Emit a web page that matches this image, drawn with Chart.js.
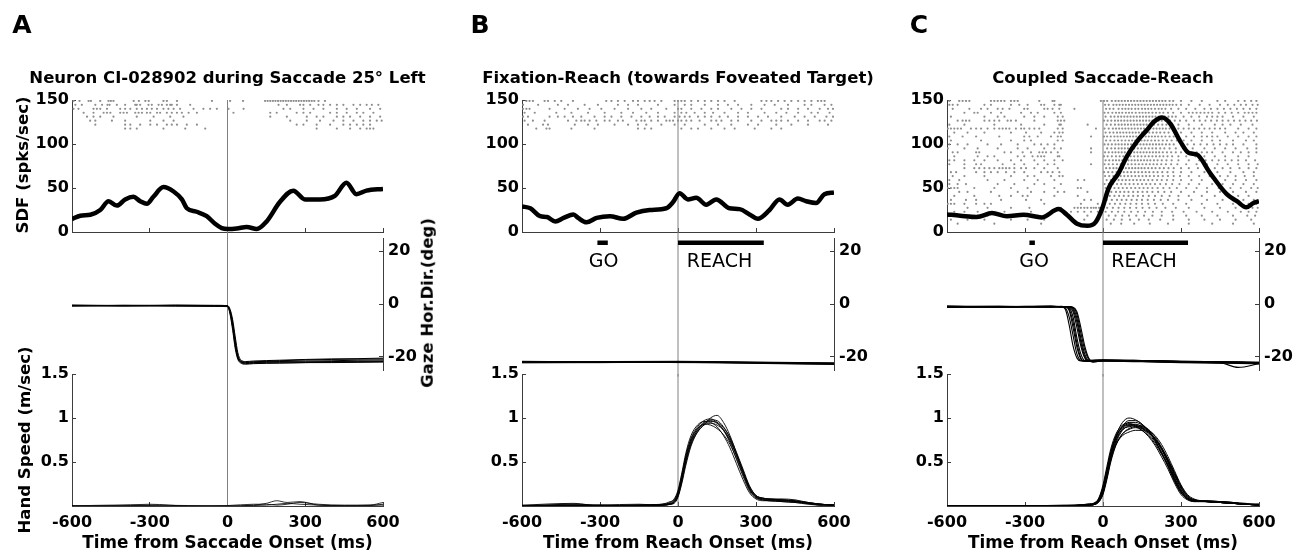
<!DOCTYPE html>
<html>
<head>
<meta charset="utf-8">
<script src="https://cdn.jsdelivr.net/npm/chart.js@4.4.1/dist/chart.umd.min.js"></script>
<style>
  body { margin: 0; background: #fff; }
  #fig { position: relative; width: 1298px; height: 557px; overflow: hidden; font-family: "DejaVu Sans", sans-serif; }
  #fig canvas { position: absolute; left: 0; top: 0; }
  .lbl { position: absolute; white-space: nowrap; line-height: 1; color: #000; }
</style>
</head>
<body>
<div id="fig"></div>
<script>
// ---- ticks ----
const xTicks = [-600, -300, 0, 300, 600];
const sdfTicks = [0, 50, 100, 150];
const gazeTicks = [-20, 0, 20];
const handTicks = [0, 0.5, 1, 1.5];

// ---- spike density (spks/sec) ----
const sdfTimeA = [-600, -568, -529, -491, -459, -427, -395, -363, -337, -311, -286, -247, -208, -176, -157, -119, -80, -48, -22, 0, 36, 74, 113, 151, 202, 254, 299, 356, 414, 459, 497, 536, 600];
const sdfA = [14.7, 18.5, 19.6, 25, 35, 30, 37, 40, 35, 32, 40, 51, 46, 37, 27, 23, 18, 9.4, 4.5, 3.4, 4, 5.7, 3.4, 12, 34, 47, 37, 37, 41, 56, 43, 47, 49];
const sdfTimeB = [-600, -568, -530, -504, -472, -440, -402, -384, -352, -313, -262, -211, -160, -109, -45, -19, 6, 38, 70, 109, 147, 198, 237, 275, 307, 352, 390, 422, 461, 493, 531, 563, 600];
const sdfB = [29, 27, 18, 17, 12, 16, 20, 16, 11, 16, 18, 15, 22, 25, 27, 34, 44, 37, 39, 31, 37, 27, 26, 20, 15, 25, 37, 31, 38, 35, 33, 43, 45];
const sdfTimeC = [-600, -549, -485, -427, -370, -306, -235, -171, -139, -100, -61, -29, -4, 22, 60, 92, 131, 169, 195, 227, 259, 297, 329, 361, 412, 476, 515, 551, 579, 600];
const sdfC = [20, 18.5, 17, 21.5, 17.8, 19.6, 16.6, 26, 19.6, 9.4, 7, 11, 26, 50, 67, 86, 103, 116, 125, 130, 123, 103, 90, 88, 67, 43, 35, 28, 33, 35];

// ---- rasters: one list of spike times (ms) per trial row ----
const rasterRowsA = [149, 144.5, 140, 135.5, 131, 126.5, 122, 117.5];
const rasterA = [
  [-594, -571, -536, -527, -491, -459, -450, -440, -362, -342, -317, -304, -247, -234, -195, -60, 10, 60, 145, 155, 165, 175, 185, 195, 205, 215, 225, 235, 245, 255, 265, 275, 285, 295, 305, 315, 325, 335, 351, 376],
  [-587, -562, -510, -484, -463, -455, -427, -395, -356, -350, -337, -305, -292, -266, -253, -234, -221, -215, -195, -144, 197, 229, 280, 293, 319, 351, 370, 396, 422, 447, 486, 512, 537, 557, 582],
  [-594, -575, -517, -504, -491, -465, -414, -395, -375, -350, -330, -311, -292, -272, -247, -228, -208, -183, -131, -93, -67, -41, 4, 62, 216, 242, 293, 332, 370, 422, 460, 499, 550, 589],
  [-555, -517, -478, -465, -452, -414, -401, -388, -356, -343, -330, -311, -298, -272, -260, -234, -215, -195, -176, -150, -118, 23, 165, 190, 267, 293, 319, 396, 422, 460, 499, 524, 563],
  [-542, -517, -491, -440, -350, -285, -221, -170, 165, 229, 306, 344, 370, 422, 447, 473, 512, 550, 589],
  [-530, -510, -446, -395, -298, -247, -208, 242, 306, 357, 409, 447, 486, 524, 550, 576, 595],
  [-510, -395, -375, -337, -298, -272, -234, -215, -195, -157, -118, 267, 293, 344, 396, 447, 473, 499, 524, 550],
  [-395, -375, -350, -247, -163, -86, 344, 422, 473, 512, 537, 550, 563],
];
const rasterRowsB = [149, 144.5, 140, 135.5, 131, 126.5, 122, 117.5];
const rasterB = [
  [-583, -571, -558, -513, -500, -474, -449, -404, -276, -256, -231, -205, -173, -154, -128, -109, -90, -64, -13, 0, 13, 26, 51, 77, 103, 128, 154, 179, 218, 321, 340, 359, 385, 410, 436, 462, 487, 513, 538, 551, 564],
  [-596, -538, -462, -423, -359, -308, -231, -192, -154, -77, -13, 26, 51, 103, 154, 192, 231, 282, 333, 372, 423, 487, 513, 564, 590],
  [-596, -583, -571, -494, -436, -385, -340, -295, -244, -192, -141, -103, -45, 0, 13, 51, 90, 128, 154, 205, 244, 282, 321, 397, 423, 462, 500, 545, 577, 596],
  [-590, -551, -468, -410, -346, -282, -218, -173, -122, -77, -13, 13, 32, 64, 103, 135, 179, 231, 269, 333, 378, 417, 462, 513, 538, 583],
  [-596, -577, -494, -462, -436, -404, -372, -321, -282, -256, -218, -179, -141, -109, -77, -51, -13, 6, 26, 45, 77, 103, 128, 160, 192, 231, 269, 308, 346, 397, 449, 487, 526, 571, 596],
  [-590, -558, -513, -423, -391, -372, -359, -340, -314, -282, -263, -231, -212, -160, -141, -128, -103, -77, -45, -32, -19, 0, 13, 32, 51, 83, 128, 147, 167, 205, 231, 282, 321, 359, 378, 397, 423, 462, 500, 545, 564, 590],
  [-577, -519, -500, -397, -346, -308, -244, -192, -154, -122, -64, -13, 26, 103, 154, 205, 269, 308, 378, 436, 500, 577],
  [-545, -506, -494, -410, -321, -154, -128, -103, 13, 51, 77, 128, 179, 218, 295, 359, 397],
];
const rasterRowsC = [149, 144.5, 140, 135.5, 131, 126.5, 122, 117.5, 113, 108.5, 104, 99.5, 95, 90.5, 86, 81.5, 77, 72.5, 68, 63.5, 59, 54.5, 50, 45.5, 41, 36.5, 32, 27.5, 23, 18.5, 14, 9.5];
const rasterC = [
  [-591, -553, -540, -527, -514, -431, -418, -405, -392, -379, -354, -341, -328, -245, -194, -187, -8, 4, 16, 34, 48, 60, 72, 84, 96, 108, 120, 132, 144, 156, 168, 180, 192, 204, 216, 228, 240, 256, 270, 300, 340, 380, 440, 470, 520, 545, 570, 590],
  [-591, -578, -559, -456, -431, -354, -322, -290, -238, -226, -187, -168, -162, 8, 22, 40, 52, 64, 76, 88, 100, 112, 124, 136, 148, 160, 172, 184, 196, 208, 220, 232, 244, 256, 268, 282, 300, 330, 372, 410, 450, 480, 505, 530, 550, 575, 595],
  [-578, -514, -469, -444, -405, -386, -360, -303, -290, -226, -213, -194, -168, -110, 12, 26, 40, 60, 74, 86, 98, 110, 124, 136, 150, 162, 174, 186, 200, 214, 226, 240, 262, 290, 320, 355, 390, 415, 440, 465, 490, 515, 540, 565, 590],
  [-533, -495, -482, -431, -392, -315, -277, -251, -187, -162, 6, 20, 36, 50, 62, 74, 88, 100, 112, 126, 140, 152, 164, 176, 190, 204, 218, 232, 250, 270, 300, 330, 345, 360, 375, 390, 405, 420, 445, 470, 495, 520, 545, 560, 575, 590],
  [-585, -456, -405, -379, -303, -264, -226, -174, -155, 10, 30, 44, 58, 70, 82, 94, 106, 118, 130, 142, 154, 166, 178, 190, 202, 214, 226, 238, 252, 266, 280, 310, 340, 370, 400, 420, 440, 460, 500, 540, 580],
  [-559, -540, -527, -514, -456, -437, -418, -399, -367, -354, -335, -264, -174, -162, -149, 4, 18, 32, 46, 58, 70, 82, 94, 106, 118, 130, 142, 154, 166, 178, 190, 202, 214, 226, 240, 258, 276, 296, 320, 350, 372, 394, 416, 438, 460, 482, 504, 526, 548, 570, 592],
  [-591, -533, -418, -315, -226, -168, -162, -59, 14, 30, 46, 60, 72, 84, 96, 108, 120, 132, 144, 156, 168, 180, 196, 212, 228, 244, 262, 290, 330, 380, 430, 460, 490, 530, 575],
  [-597, -585, -572, -559, -546, -508, -488, -469, -444, -418, -399, -386, -373, -360, -335, -315, -303, -283, -264, -245, -174, -155, -27, 6, 22, 38, 50, 62, 74, 86, 98, 110, 122, 134, 146, 158, 170, 182, 194, 206, 218, 230, 242, 256, 270, 290, 310, 330, 350, 370, 390, 410, 430, 450, 470, 520, 560, 590],
  [-572, -521, -456, -354, -296, -238, -187, -168, -155, 10, 26, 40, 54, 66, 78, 90, 102, 114, 126, 138, 150, 164, 178, 192, 206, 220, 236, 252, 275, 300, 340, 380, 420, 470, 510, 540, 580],
  [-591, -540, -488, -399, -303, -283, -251, -200, -174, -162, -46, 4, 16, 30, 44, 56, 68, 80, 92, 104, 116, 128, 140, 152, 164, 176, 188, 200, 212, 226, 240, 256, 272, 290, 320, 350, 380, 400, 420, 440, 480, 520, 560, 590],
  [-585, -469, -354, -303, -277, -174, -155, 12, 28, 44, 58, 72, 86, 100, 112, 124, 136, 148, 160, 172, 186, 200, 214, 230, 246, 264, 284, 310, 340, 380, 420, 450, 500, 550, 580],
  [-591, -559, -521, -444, -392, -328, -264, -238, -213, -187, 6, 20, 34, 48, 60, 72, 84, 96, 108, 120, 132, 144, 156, 168, 180, 192, 204, 216, 228, 242, 256, 272, 300, 325, 350, 375, 400, 425, 450, 475, 500, 540, 590],
  [-597, -533, -482, -405, -328, -290, -226, -187, -162, -46, 16, 32, 46, 60, 72, 84, 96, 108, 120, 134, 148, 162, 176, 190, 204, 220, 236, 256, 280, 310, 345, 390, 430, 470, 510, 555, 590],
  [-578, -559, -488, -476, -379, -354, -309, -277, -245, -232, -219, -200, -174, -46, 8, 22, 36, 48, 60, 72, 84, 96, 108, 120, 132, 144, 156, 168, 180, 192, 204, 216, 230, 246, 262, 280, 300, 320, 340, 360, 380, 400, 420, 460, 500, 530, 560, 590],
  [-572, -482, -444, -418, -328, -303, -271, -251, -238, -226, -174, -168, 4, 18, 34, 50, 64, 78, 92, 106, 120, 134, 148, 162, 176, 190, 204, 218, 232, 248, 266, 290, 320, 355, 390, 430, 470, 520, 560],
  [-591, -572, -533, -495, -456, -405, -354, -315, -264, -226, -187, -155, 10, 24, 38, 50, 62, 74, 86, 98, 110, 122, 134, 146, 158, 170, 182, 196, 210, 226, 244, 264, 290, 330, 370, 395, 420, 445, 470, 495, 520, 550, 585],
  [-591, -533, -488, -469, -386, -341, -303, -251, -213, -187, -46, 6, 22, 38, 54, 68, 82, 96, 110, 124, 138, 152, 166, 180, 194, 208, 224, 242, 262, 286, 320, 360, 400, 440, 480, 520, 560, 595],
  [-533, -495, -476, -456, -437, -418, -399, -386, -373, -360, -341, -315, -296, -264, -226, -174, 12, 26, 40, 52, 64, 76, 88, 100, 112, 124, 136, 148, 160, 174, 188, 202, 218, 234, 252, 272, 300, 330, 365, 400, 430, 460, 490, 525, 560, 590],
  [-585, -565, -488, -456, -431, -405, -373, -341, -303, -238, -213, -194, -168, 4, 20, 36, 52, 66, 80, 94, 108, 122, 136, 150, 164, 178, 194, 210, 228, 248, 270, 300, 340, 390, 440, 490, 540, 580],
  [-578, -533, -456, -354, -290, -264, -200, -168, -155, 8, 24, 40, 54, 68, 82, 96, 110, 124, 138, 152, 166, 180, 196, 212, 230, 250, 272, 296, 330, 370, 410, 450, 480, 510, 545, 580],
  [-591, -553, -444, -379, -303, -251, -187, -97, -72, 14, 30, 46, 60, 74, 88, 102, 116, 130, 144, 158, 174, 190, 208, 226, 246, 270, 300, 340, 380, 430, 470, 510, 550, 590],
  [-591, -559, -527, -405, -341, -264, -226, -162, 6, 22, 38, 54, 70, 86, 102, 118, 134, 150, 166, 182, 200, 220, 242, 266, 294, 330, 370, 420, 460, 500, 540, 580],
  [-597, -585, -572, -559, -495, -418, -354, -290, -187, -97, -85, 10, 28, 44, 60, 76, 92, 108, 124, 140, 156, 172, 190, 210, 232, 256, 284, 320, 360, 400, 445, 490, 530, 570, 595],
  [-553, -521, -431, -328, -277, -226, -174, -149, -60, 16, 32, 50, 66, 82, 98, 116, 134, 152, 170, 190, 212, 236, 262, 300, 350, 400, 450, 500, 550, 590],
  [-572, -495, -399, -354, -309, -290, -187, -97, 8, 26, 44, 62, 80, 98, 116, 134, 154, 176, 200, 226, 256, 290, 330, 380, 430, 480, 520, 560],
  [-585, -527, -488, -392, -296, -238, -72, -46, 14, 34, 54, 72, 90, 110, 130, 150, 172, 196, 222, 250, 290, 340, 400, 460, 500, 540, 580],
  [-597, -585, -572, -533, -488, -456, -431, -226, -85, -20, 6, 26, 46, 66, 86, 106, 128, 150, 174, 200, 230, 270, 320, 380, 440, 500, 560, 590],
  [-521, -444, -354, -283, -162, -110, -97, -85, -72, -60, -46, -36, -27, -15, -8, 16, 38, 60, 82, 104, 128, 152, 178, 206, 240, 280, 330, 390, 450, 510, 550, 575, 595],
  [-572, -533, -482, -379, -277, -200, -149, -123, -97, -72, -46, -20, 10, 34, 58, 82, 108, 134, 162, 192, 226, 266, 310, 360, 420, 480, 530, 560, 590],
  [-591, -553, -540, -527, -514, -495, -482, -469, -444, -354, -341, -335, -277, -251, -226, -136, -60, 22, 48, 74, 100, 128, 158, 190, 226, 270, 320, 380, 440, 500, 555, 585],
  [-585, -521, -456, -354, -290, -226, -72, 14, 42, 72, 104, 138, 176, 220, 270, 330, 390, 450, 510, 570],
  [-559, -418, -238, 30, 70, 120, 180, 250, 330, 420, 500, 580],
];

// ---- gaze horizontal direction (deg), single trials ----
const gazeTimeA = [-600, -400, -200, -50, 0, 10, 20, 30, 40, 50, 70, 100, 200, 300, 400, 500, 600];
const gazeA = [
  [-0.6, -0.7, -0.5, -0.6, -0.8, -2.5, -7, -14, -19.5, -21.5, -22.2, -22, -21.8, -21.6, -21.5, -21.3, -21.2],
  [-0.8, -0.5, -0.7, -0.9, -1.0, -3.5, -9, -16, -20.5, -22, -22.4, -22.2, -22, -21.9, -21.8, -21.7, -21.6],
  [-0.4, -0.6, -0.4, -0.5, -0.6, -2, -6, -12.5, -18.5, -21, -21.8, -21.6, -21.3, -21, -20.8, -20.7, -20.5],
  [-0.7, -0.8, -0.6, -0.7, -0.9, -3, -8, -15, -20, -21.7, -22.6, -22.4, -22.3, -22.2, -22.2, -22.1, -22],
  [-0.5, -0.6, -0.8, -0.6, -0.7, -2.8, -7.5, -15, -20.2, -21.8, -22, -21.9, -21.5, -21.2, -21, -20.9, -20.8],
  [-0.6, -0.5, -0.6, -0.8, -0.9, -4, -10, -17, -21, -22.3, -22.8, -22.6, -22.4, -22.2, -22, -21.9, -21.8],
];
const gazeTimeB = [-600, -300, 0, 300, 600];
const gazeB = [
  [-21.9, -22.0, -21.9, -22.2, -22.5],
  [-22.1, -22.2, -22.0, -22.4, -22.8],
  [-21.8, -21.8, -21.7, -22.0, -22.3],
  [-22.3, -22.2, -22.1, -22.5, -22.9],
  [-22.0, -21.9, -22.2, -22.3, -22.6],
  [-21.7, -21.9, -21.8, -22.1, -22.4],
];
const gazeTimeC = [-600, -400, -200, -160, -145, -130, -115, -100, -85, -70, -55, -40, 0, 150, 300, 450, 520, 600];
const gazeC = [
  [-1.0, -1.1, -0.9, -1.1, -2, -8, -16, -20.5, -21.6, -21.5, -21.4, -21.3, -21.2, -21.5, -21.8, -22, -22, -22.2],
  [-0.8, -0.9, -1.0, -1.0, -1.5, -5, -12, -19, -21.4, -21.6, -21.4, -21.3, -21.2, -21.4, -21.7, -21.9, -22, -22.1],
  [-1.2, -1.0, -1.1, -1.0, -1.1, -2.5, -9, -16.5, -20.8, -21.7, -21.5, -21.4, -21.3, -21.5, -21.8, -22, -22.1, -22.3],
  [-0.9, -1.0, -0.8, -1.0, -1.0, -1.5, -5, -13, -19, -21.5, -21.8, -21.5, -21.3, -21.6, -21.9, -22.1, -22.2, -22.4],
  [-1.1, -1.2, -1.0, -1.1, -1.0, -1.2, -3, -9, -16, -20.5, -21.8, -21.6, -21.4, -21.6, -21.9, -22.0, -22.1, -22.2],
  [-1.0, -0.9, -1.1, -1.0, -1.0, -1.0, -1.6, -5.5, -13, -19, -21.5, -21.8, -21.5, -21.7, -22, -22.2, -22.3, -22.5],
  [-1.3, -1.1, -1.2, -1.1, -1.1, -1.1, -1.3, -4, -11, -17.5, -21, -22, -21.6, -21.8, -22.1, -22.3, -24, -22.6],
  [-0.9, -1.0, -1.0, -0.9, -1.0, -1.0, -1.2, -3, -9, -16, -20.5, -21.9, -21.7, -21.9, -22.2, -22.4, -22.5, -22.7],
  [-1.0, -1.1, -1.0, -1.0, -1.0, -2, -7, -15, -20.5, -21.6, -21.5, -21.4, -21.2, -21.4, -21.7, -21.9, -22, -22.1],
  [-1.1, -1.0, -0.9, -1.0, -1.0, -1.0, -2.2, -7, -14.5, -20, -21.7, -21.7, -21.4, -21.6, -21.9, -22.1, -22.2, -22.3],
];

// ---- hand speed (m/sec), single trials ----
const handTimeA = [-600, -450, -300, -150, 0, 100, 150, 190, 230, 280, 350, 450, 550, 600];
const handA = [
  [0, 0.005, 0.02, 0, 0, 0.01, 0.03, 0.06, 0.04, 0.05, 0.01, 0.005, 0.01, 0.04],
  [0.005, 0, 0.01, 0.005, 0, 0.005, 0.01, 0.02, 0.03, 0.02, 0.01, 0, 0.005, 0.02],
  [0, 0.01, 0.005, 0, 0.005, 0.02, 0.02, 0.01, 0.02, 0.04, 0.02, 0.01, 0.01, 0.01],
];
const handTime = [-600, -400, -300, -150, -60, -30, -15, 0, 15, 30, 50, 75, 100, 125, 150, 175, 200, 225, 250, 275, 300, 325, 350, 400, 450, 500, 550, 600];
const handB = [
  [0, 0.01, 0, 0.005, 0.01, 0.02, 0.04, 0.12, 0.3, 0.52, 0.74, 0.88, 0.95, 0.97, 0.94, 0.87, 0.75, 0.57, 0.38, 0.19, 0.1, 0.08, 0.075, 0.07, 0.06, 0.03, 0.02, 0.01],
  [0, 0.02, 0.01, 0, 0.01, 0.03, 0.05, 0.15, 0.34, 0.56, 0.77, 0.9, 0.97, 0.99, 0.95, 0.86, 0.72, 0.53, 0.34, 0.17, 0.09, 0.07, 0.06, 0.06, 0.05, 0.03, 0.01, 0.01],
  [0.005, 0, 0, 0.01, 0.02, 0.03, 0.06, 0.14, 0.32, 0.5, 0.7, 0.84, 0.92, 1.0, 1.03, 0.95, 0.8, 0.6, 0.4, 0.22, 0.12, 0.09, 0.08, 0.07, 0.05, 0.04, 0.02, 0.01],
  [0, 0.005, 0.01, 0, 0.01, 0.02, 0.03, 0.1, 0.26, 0.46, 0.68, 0.84, 0.92, 0.94, 0.92, 0.86, 0.74, 0.58, 0.4, 0.21, 0.11, 0.08, 0.07, 0.06, 0.05, 0.03, 0.02, 0.005],
  [0.01, 0.03, 0, 0.01, 0.02, 0.04, 0.08, 0.18, 0.38, 0.6, 0.8, 0.92, 0.96, 0.95, 0.9, 0.8, 0.66, 0.48, 0.3, 0.15, 0.08, 0.06, 0.06, 0.05, 0.04, 0.02, 0.01, 0.01],
  [0, 0, 0.01, 0.02, 0.01, 0.02, 0.04, 0.11, 0.28, 0.49, 0.71, 0.86, 0.93, 0.96, 0.95, 0.89, 0.78, 0.61, 0.42, 0.23, 0.12, 0.09, 0.08, 0.08, 0.07, 0.04, 0.02, 0.01],
  [0, 0.01, 0, 0.005, 0.02, 0.05, 0.07, 0.16, 0.36, 0.57, 0.76, 0.88, 0.93, 0.92, 0.88, 0.81, 0.7, 0.54, 0.36, 0.19, 0.1, 0.07, 0.06, 0.05, 0.04, 0.03, 0.01, 0.01],
  [0.005, 0.01, 0.005, 0.01, 0.01, 0.02, 0.05, 0.13, 0.31, 0.53, 0.73, 0.86, 0.94, 0.98, 0.97, 0.9, 0.77, 0.58, 0.38, 0.2, 0.11, 0.09, 0.08, 0.07, 0.06, 0.04, 0.02, 0.01],
];
const handC = [
  [0, 0, 0.005, 0, 0.01, 0.02, 0.06, 0.16, 0.35, 0.55, 0.74, 0.88, 0.92, 0.93, 0.9, 0.85, 0.76, 0.64, 0.49, 0.32, 0.18, 0.09, 0.06, 0.05, 0.04, 0.03, 0.02, 0.01],
  [0, 0.005, 0, 0.01, 0.01, 0.03, 0.08, 0.2, 0.4, 0.6, 0.8, 0.95, 1.0, 0.98, 0.93, 0.86, 0.75, 0.61, 0.45, 0.28, 0.15, 0.08, 0.05, 0.05, 0.04, 0.03, 0.02, 0.02],
  [0.005, 0, 0, 0, 0.02, 0.04, 0.09, 0.22, 0.42, 0.62, 0.79, 0.9, 0.93, 0.92, 0.88, 0.82, 0.73, 0.61, 0.47, 0.3, 0.16, 0.08, 0.06, 0.05, 0.05, 0.03, 0.02, 0.01],
  [0, 0, 0.005, 0.005, 0.01, 0.02, 0.05, 0.13, 0.3, 0.5, 0.69, 0.82, 0.87, 0.89, 0.88, 0.84, 0.77, 0.66, 0.52, 0.36, 0.21, 0.11, 0.07, 0.05, 0.04, 0.03, 0.02, 0.01],
  [0, 0.005, 0, 0, 0.01, 0.02, 0.06, 0.17, 0.37, 0.58, 0.77, 0.9, 0.95, 0.95, 0.92, 0.86, 0.77, 0.65, 0.5, 0.33, 0.18, 0.09, 0.06, 0.06, 0.05, 0.04, 0.02, 0.01],
  [0.005, 0, 0.005, 0, 0.01, 0.03, 0.07, 0.18, 0.36, 0.54, 0.7, 0.8, 0.84, 0.86, 0.86, 0.83, 0.76, 0.66, 0.53, 0.38, 0.23, 0.12, 0.07, 0.05, 0.04, 0.03, 0.02, 0.01],
  [0, 0, 0, 0.005, 0.02, 0.04, 0.1, 0.24, 0.45, 0.65, 0.82, 0.92, 0.94, 0.91, 0.86, 0.79, 0.69, 0.56, 0.42, 0.26, 0.13, 0.07, 0.05, 0.05, 0.04, 0.03, 0.02, 0.02],
  [0, 0.005, 0, 0, 0.01, 0.02, 0.05, 0.14, 0.32, 0.52, 0.72, 0.86, 0.91, 0.92, 0.91, 0.87, 0.79, 0.67, 0.53, 0.37, 0.22, 0.11, 0.07, 0.06, 0.05, 0.04, 0.03, 0.01],
  [0, 0, 0.005, 0, 0.01, 0.03, 0.07, 0.19, 0.39, 0.59, 0.78, 0.91, 0.97, 0.97, 0.93, 0.85, 0.74, 0.6, 0.45, 0.29, 0.15, 0.08, 0.06, 0.05, 0.04, 0.03, 0.02, 0.01],
  [0.005, 0, 0, 0.005, 0.01, 0.02, 0.06, 0.15, 0.33, 0.53, 0.7, 0.82, 0.88, 0.9, 0.9, 0.86, 0.8, 0.7, 0.56, 0.4, 0.24, 0.13, 0.08, 0.05, 0.04, 0.03, 0.02, 0.01],
  [0, 0, 0, 0, 0.01, 0.03, 0.08, 0.21, 0.41, 0.61, 0.79, 0.9, 0.92, 0.9, 0.86, 0.8, 0.71, 0.59, 0.46, 0.31, 0.17, 0.09, 0.06, 0.05, 0.04, 0.03, 0.02, 0.02],
  [0, 0.005, 0.005, 0, 0.02, 0.03, 0.07, 0.17, 0.36, 0.56, 0.75, 0.87, 0.9, 0.91, 0.89, 0.84, 0.76, 0.65, 0.51, 0.35, 0.2, 0.1, 0.06, 0.05, 0.05, 0.04, 0.02, 0.01],
];

// ---- task events (ms) ----
const goB = [-310, -270];
const reachB = [0, 330];
const goC = [-283, -262];
const reachC = [0, 327];

// ---- text ----
const panelLetters = ["A", "B", "C"];
const panelTitles = ["Neuron CI-028902 during Saccade 25° Left", "Fixation-Reach (towards Foveated Target)", "Coupled Saccade-Reach"];
const xTitles = ["Time from Saccade Onset (ms)", "Time from Reach Onset (ms)", "Time from Reach Onset (ms)"];

// ---- layout (pixels) ----
const FIG_W = 1298;
const FIG_H = 557;
const SDF_BOX = [100, 232];
const GAZE_BOX = [238, 370];
const HAND_BOX = [374, 506];
const Y_AXIS_W = 50; // room kept for tick labels, labels are clipped to the axis box
const X_AXIS_H = 30;
const AXIS = "#3c3c3c";
const ZERO = "#808080";
const DOT = "#8e8e8e";
const BAR_Y = 23.2;

const fig = document.getElementById("fig");

Chart.defaults.font.family = "'DejaVu Sans', sans-serif";
Chart.defaults.font.size = 16;
Chart.defaults.font.weight = "bold";
Chart.defaults.color = "#000";

function addCanvas() {
  const canvas = document.createElement("canvas");
  canvas.width = FIG_W;
  canvas.height = FIG_H;
  fig.appendChild(canvas);
  return canvas.getContext("2d");
}

function axisLook() {
  return {
    grid: { drawOnChartArea: false, drawTicks: true, tickLength: -4, color: AXIS, lineWidth: 1 },
    border: { display: true, color: AXIS, width: 1 },
  };
}

function timeAxis(showLabels, visible) {
  return {
    type: "linear",
    display: visible,
    min: -600,
    max: 600,
    afterBuildTicks: (s) => { s.ticks = xTicks.map((v) => ({ value: v })); },
    afterFit: (s) => { s.height = showLabels ? X_AXIS_H : 0; },
    ticks: { display: showLabels, padding: 11, autoSkip: false, maxRotation: 0, callback: (v) => String(v) },
    ...axisLook(),
  };
}

function valueAxis(position, min, max, tickValues, hideZero) {
  return {
    type: "linear",
    position,
    min,
    max,
    afterBuildTicks: (s) => { s.ticks = tickValues.map((v) => ({ value: v })); },
    afterFit: (s) => { s.width = Y_AXIS_W; },
    ticks: {
      padding: position === "left" ? 7 : 9,
      autoSkip: false,
      callback: (v) => (hideZero && v === 0 ? "" : String(v)),
    },
    ...axisLook(),
  };
}

function makeChart(padding, datasets, scales) {
  return new Chart(addCanvas(), {
    type: "line",
    data: { datasets },
    options: {
      responsive: false,
      animation: false,
      devicePixelRatio: 1,
      layout: { padding },
      plugins: { legend: { display: false }, tooltip: { enabled: false } },
      elements: { point: { radius: 0 } },
      scales,
    },
  });
}

function sdfLine(times, values) {
  return {
    data: values.map((v, i) => ({ x: times[i], y: v })),
    borderColor: "#000",
    borderWidth: 4.5,
    cubicInterpolationMode: "monotone",
  };
}

function rasterDots(rows, levels) {
  const points = [];
  rows.forEach((times, i) => {
    times.forEach((t) => points.push({ x: t, y: levels[i] }));
  });
  return { data: points, showLine: false, pointRadius: 1.1, pointBackgroundColor: DOT, pointBorderWidth: 0 };
}

function traces(times, trials, width) {
  return trials.map((vals) => ({
    data: vals.map((v, i) => ({ x: times[i], y: v })),
    borderColor: "#000",
    borderWidth: width,
    cubicInterpolationMode: "monotone",
  }));
}

function zeroLine(lo, hi) {
  return { data: [{ x: 0, y: lo }, { x: 0, y: hi }], borderColor: ZERO, borderWidth: 1, clip: false };
}

function eventBar(span) {
  return {
    data: [{ x: span[0], y: BAR_Y }, { x: span[1], y: BAR_Y }],
    borderColor: "#000",
    borderWidth: 4.5,
    borderCapStyle: "butt",
  };
}

function addLabel(text, cx, cy, size, weight, rotate) {
  const div = document.createElement("div");
  div.className = "lbl";
  div.textContent = text;
  div.style.left = cx + "px";
  div.style.top = cy + "px";
  div.style.fontSize = size + "px";
  div.style.fontWeight = weight;
  div.style.transform = `translate(-50%, -50%) rotate(${rotate}deg)`;
  fig.appendChild(div);
}

function drawPanel(x0, x1, sdfSet, rasterSet, gazeSets, handSets, bars) {
  makeChart(
    { left: x0 - Y_AXIS_W, right: FIG_W - x1, top: SDF_BOX[0], bottom: FIG_H - SDF_BOX[1] },
    [sdfSet, rasterSet, zeroLine(0, 150)],
    { x: timeAxis(false, true), y: valueAxis("left", 0, 150, sdfTicks, false) }
  );
  makeChart(
    { left: x0, right: FIG_W - x1 - Y_AXIS_W, top: GAZE_BOX[0], bottom: FIG_H - GAZE_BOX[1] },
    [...bars, ...gazeSets, zeroLine(-27.5, 27.5)],
    { x: timeAxis(false, false), y: valueAxis("right", -25, 25, gazeTicks, false) }
  );
  makeChart(
    { left: x0 - Y_AXIS_W, right: FIG_W - x1, top: HAND_BOX[0], bottom: FIG_H - HAND_BOX[1] - X_AXIS_H },
    [...handSets, zeroLine(0, 1.5)],
    { x: timeAxis(true, true), y: valueAxis("left", 0, 1.5, handTicks, true) }
  );
}

drawPanel(72, 383, sdfLine(sdfTimeA, sdfA), rasterDots(rasterA, rasterRowsA),
  traces(gazeTimeA, gazeA, 1), traces(handTimeA, handA, 0.8), []);
drawPanel(522, 834, sdfLine(sdfTimeB, sdfB), rasterDots(rasterB, rasterRowsB),
  traces(gazeTimeB, gazeB, 1), traces(handTime, handB, 0.9), [eventBar(goB), eventBar(reachB)]);
drawPanel(947, 1259, sdfLine(sdfTimeC, sdfC), rasterDots(rasterC, rasterRowsC),
  traces(gazeTimeC, gazeC, 1.1), traces(handTime, handC, 1), [eventBar(goC), eventBar(reachC)]);

// panel letters, titles and axis titles
const centers = [227.5, 678, 1103];
const letterX = [22, 480, 919];
panelLetters.forEach((t, i) => addLabel(t, letterX[i], 24, 25, "bold", 0));
panelTitles.forEach((t, i) => addLabel(t, centers[i], 77.7, 16.5, "bold", 0));
xTitles.forEach((t, i) => addLabel(t, centers[i], 541.7, 16.8, "bold", 0));
addLabel("SDF (spks/sec)", 22.5, 165, 16.5, "bold", -90);
addLabel("Hand Speed (m/sec)", 25, 440, 16.5, "bold", -90);
addLabel("Gaze Hor.Dir.(deg)", 428, 303, 16.5, "bold", -90);
addLabel("GO", 603.5, 259.5, 19, "normal", 0);
addLabel("REACH", 719.5, 259.5, 19, "normal", 0);
addLabel("GO", 1034, 259.5, 19, "normal", 0);
addLabel("REACH", 1144, 259.5, 19, "normal", 0);
</script>
</body>
</html>
